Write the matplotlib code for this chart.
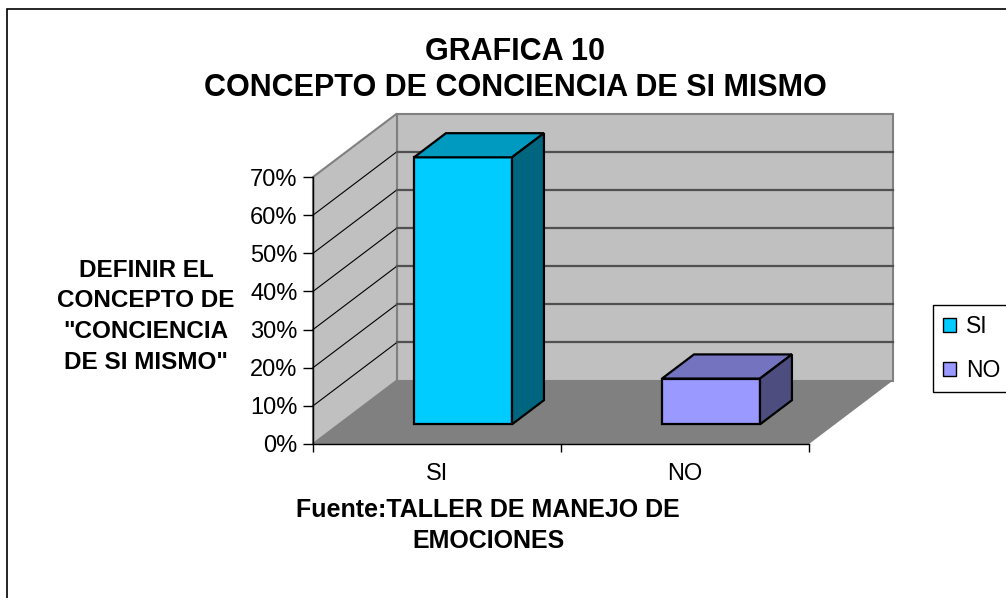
import matplotlib
matplotlib.use("Agg")
import matplotlib.pyplot as plt
from matplotlib.patches import Polygon, Rectangle, Patch
from matplotlib.ticker import PercentFormatter

plt.rcParams['font.family'] = ['Liberation Sans', 'DejaVu Sans']

categories = ["SI", "NO"]
values = [0.70, 0.12]
yticks = [0, 0.1, 0.2, 0.3, 0.4, 0.5, 0.6, 0.7]
title = "GRAFICA 10\nCONCEPTO DE CONCIENCIA DE SI MISMO"
ylabel = 'DEFINIR EL\nCONCEPTO DE\n"CONCIENCIA\nDE SI MISMO"'
xlabel = "Fuente:TALLER DE MANEJO DE\nEMOCIONES"

front_colors = ["#00ccff", "#9999ff"]
top_colors = ["#0099bf", "#7373bf"]
side_colors = ["#006680", "#4d4d80"]

W, H = 1006, 598
fig = plt.figure(figsize=(W / 100, H / 100), dpi=100)

# axes = front plane of the 3d box
ax = fig.add_axes([313 / W, 1 - 444 / H, 496 / W, 267 / H])
n = len(categories)
ymax = yticks[-1]
ax.set_xlim(0, n)
ax.set_ylim(0, ymax)
ax.patch.set_visible(False)

# oblique depth offset (data units)
DX = 84 / 496 * n
DY = 63.5 / 267 * ymax


def proj(x, y, d):
    return (x + d * DX, y + d * DY)


def face(pts, **kw):
    ax.add_patch(Polygon([proj(*p) for p in pts], closed=True, clip_on=False, **kw))


# floor and walls
face([(0, 0, 0), (n, 0, 0), (n, 0, 1), (0, 0, 1)], fc="#808080", ec="none", zorder=1)
face([(0, 0, 1), (n, 0, 1), (n, ymax, 1), (0, ymax, 1)], fc="#c0c0c0", ec="#808080", lw=1.5, zorder=1)
face([(0, 0, 0), (0, 0, 1), (0, ymax, 1), (0, ymax, 0)], fc="#c0c0c0", ec="#808080", lw=1.5, zorder=1)

for v in yticks[1:-1]:
    a, b = proj(0, v, 0), proj(0, v, 1)
    ax.plot([a[0], b[0]], [a[1], b[1]], color="black", lw=0.8, clip_on=False, zorder=1.5)
    a, b = proj(0, v, 1), proj(n, v, 1)
    ax.plot([a[0], b[0]], [a[1], b[1]], color="#505050", lw=1.6, clip_on=False, zorder=1.5)

# bars
bw = 0.395
d0, d1 = 0.31, 0.69
for i, v in enumerate(values):
    x0 = i + 0.5 - bw / 2
    x1 = x0 + bw
    kw = dict(ec="black", lw=1.6, zorder=3, joinstyle="miter")
    face([(x0, 0, d0), (x1, 0, d0), (x1, v, d0), (x0, v, d0)], fc=front_colors[i], **kw)
    face([(x0, v, d0), (x1, v, d0), (x1, v, d1), (x0, v, d1)], fc=top_colors[i], **kw)
    face([(x1, 0, d0), (x1, 0, d1), (x1, v, d1), (x1, v, d0)], fc=side_colors[i], **kw)

for s in ["top", "right"]:
    ax.spines[s].set_visible(False)
for s in ["left", "bottom"]:
    ax.spines[s].set_color("black")
    ax.spines[s].set_linewidth(1)

ax.set_yticks(yticks)
ax.yaxis.set_major_formatter(PercentFormatter(1.0, decimals=0))
ax.tick_params(axis="y", direction="out", length=7, width=1, pad=4, labelsize=17)
ax.set_xticks([i + 0.5 for i in range(n)], categories)
ax.set_xticks(range(n + 1), minor=True)
ax.tick_params(axis="x", which="major", length=0, pad=14, labelsize=17)
ax.tick_params(axis="x", which="minor", length=6, width=1, direction="out")

# texts (va='baseline' puts the last line on the given baseline)
fig.text(515 / W, 1 - 96 / H, title, ha="center", va="baseline", fontsize=22,
         fontweight="bold", linespacing=1.25)
fig.text(146 / W, 1 - 368.6 / H, ylabel, ha="center", va="baseline", fontsize=17.5,
         fontweight="bold", linespacing=1.42, multialignment="center")
fig.text(488 / W, 1 - 548.4 / H, xlabel, ha="center", va="baseline", fontsize=18,
         fontweight="bold", linespacing=1.4, multialignment="center")

# legend
handles = [Patch(fc=c, ec="black", lw=1) for c in front_colors]
leg = fig.legend(handles, categories, loc="upper left", bbox_to_anchor=(933 / W, 1 - 305 / H),
                 borderaxespad=0, fancybox=False, edgecolor="black", framealpha=1,
                 fontsize=16.5, handlelength=0.55, handleheight=0.55, handletextpad=0.45,
                 labelspacing=0.9, borderpad=0.45)
leg.get_frame().set_linewidth(1)

# chart area border
fig.patches.append(Rectangle((7 / W, -0.05), 1.1, 1.05 - 9 / H, transform=fig.transFigure,
                             fill=False, ec="black", lw=1.2))

fig.savefig("out.png", dpi=100)
